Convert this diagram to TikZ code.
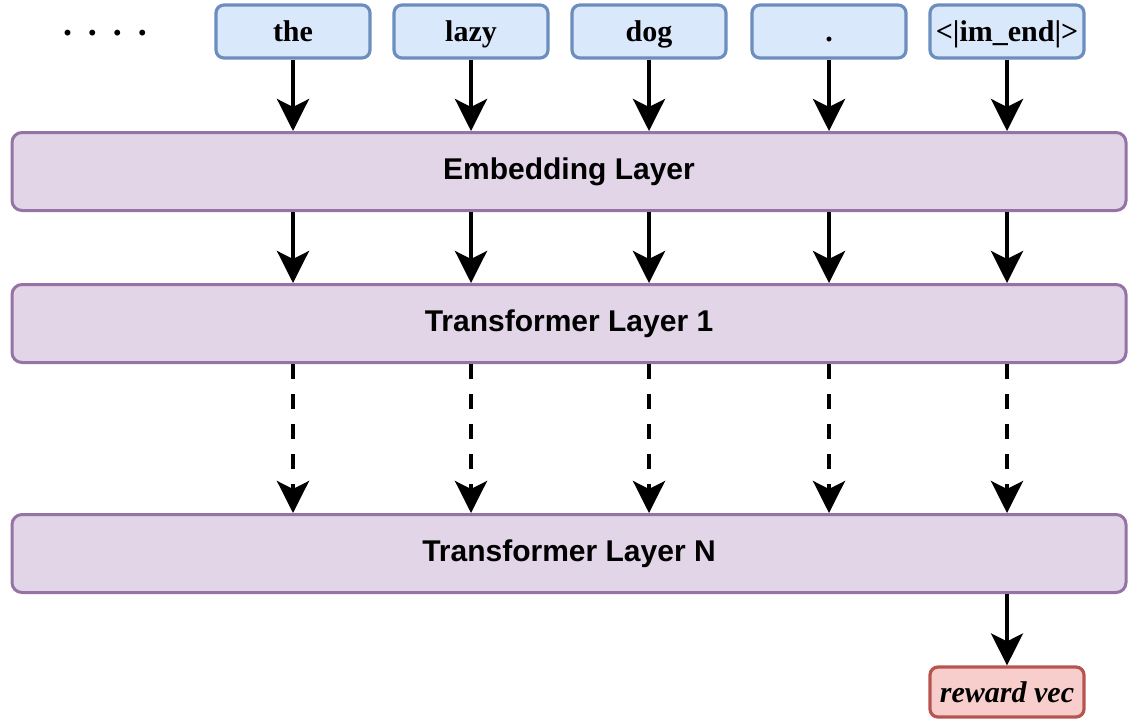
\documentclass[tikz,border=0pt]{standalone}
\usepackage{fontspec}
\setmainfont{Liberation Serif}
\newfontfamily\arialfont{Liberation Sans}
\usepackage{xcolor}
\usetikzlibrary{arrows.meta,calc,positioning}
\definecolor{tokfill}{HTML}{DAE8FC}
\definecolor{tokline}{HTML}{6C8EBF}
\definecolor{layfill}{HTML}{E1D5E7}
\definecolor{layline}{HTML}{9673A6}
\definecolor{rwdfill}{HTML}{F8CECC}
\definecolor{rwdline}{HTML}{B85450}
\tikzset{
  tokbox/.style={draw=tokline, fill=tokfill, line width=1.6pt, rounded corners=4pt,
    minimum width=77pt, minimum height=26.5pt, inner sep=0pt,
    text height=12pt, text depth=2pt,
    font=\fontsize{15pt}{17pt}\selectfont\bfseries},
  layerbox/.style={draw=layline, fill=layfill, line width=1.5pt, rounded corners=5pt,
    minimum width=557pt, minimum height=39pt, inner sep=0pt,
    font=\arialfont\fontsize{15pt}{17pt}\selectfont\bfseries},
  rwdbox/.style={draw=rwdline, fill=rwdfill, line width=1.6pt, rounded corners=4pt,
    minimum width=77pt, minimum height=25pt, inner sep=0pt,
    font=\fontsize{15pt}{17pt}\selectfont\bfseries\itshape},
  flowarr/.style={-{Stealth[length=16pt, width=16pt, inset=4pt]}, line width=2pt},
  skiparr/.style={flowarr, dash pattern=on 7.5pt off 7.5pt}
}

\begin{document}
\begin{tikzpicture}[x=0.5pt,y=-0.5pt]
  \useasboundingbox (0,0) rectangle (1128,720);
  % input tokens
  \node[anchor=base, inner sep=0pt, font=\fontsize{18pt}{20pt}\selectfont\bfseries] (dots) at (105,35)
    {.\hspace{8pt}.\hspace{8pt}.\hspace{8pt}.};
  \node[tokbox] (t1) at (293,31.5) {the};
  \node[tokbox] (t2) at (471,31.5) {lazy};
  \node[tokbox] (t3) at (649,31.5) {dog};
  \node[tokbox] (t4) at (829,31.5) {.};
  \node[tokbox] (t5) at (1007,31.5) {<|im\_end|>};
  % layers
  \node[layerbox] (emb)  at (569,171.5) {Embedding Layer};
  \node[layerbox] (lay1) at (569,323.5) {Transformer Layer 1};
  \node[layerbox] (layN) at (569,553.5) {Transformer Layer N};
  % output
  \node[rwdbox] (rwd) at (1007,692) {reward vec};
  \foreach \t in {t1,t2,t3,t4,t5} {
    \draw[flowarr] (\t.south) -- (\t |- emb.north);
    \draw[flowarr] (\t |- emb.south) -- (\t |- lay1.north);
    \draw[skiparr] (\t |- lay1.south) -- (\t |- layN.north);
  }
  \draw[flowarr] (rwd |- layN.south) -- (rwd.north);
\end{tikzpicture}
\end{document}
